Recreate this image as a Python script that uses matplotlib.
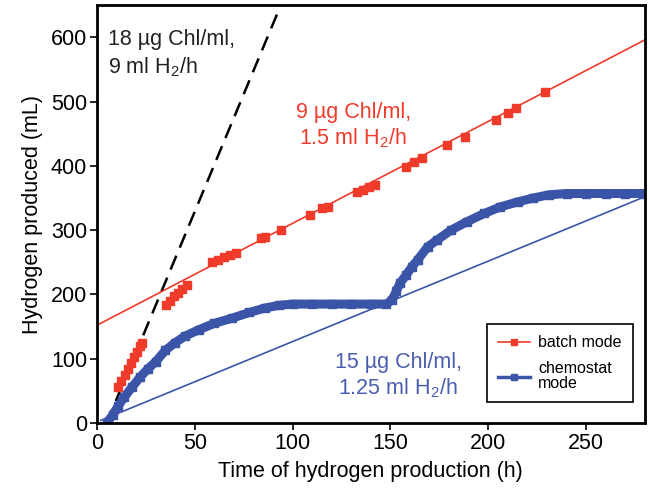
import matplotlib
matplotlib.use('Agg')
import matplotlib.pyplot as plt
from matplotlib.lines import Line2D

plt.rcParams['font.family'] = ['Liberation Sans', 'DejaVu Sans']
plt.rcParams['mathtext.default'] = 'regular'

# batch mode measurements (h, mL)
batch_t = [10.7, 12.5, 14.5, 16, 17.5, 19, 20.5, 22, 23,
           35.5, 37.5, 39.5, 41.5, 43.5, 46,
           59, 62, 65, 68, 71, 84, 86, 94, 109, 115, 118,
           133, 136, 139, 142, 158, 162, 166, 179, 188, 204, 210, 214, 229]
batch_h2 = [56, 65, 75, 84, 93, 102, 111, 120, 124,
            183, 190, 197, 203, 208, 215,
            250, 254, 258, 262, 264, 288, 290, 300, 323, 334, 336,
            359, 363, 367, 370, 398, 406, 412, 432, 445, 471, 482, 490, 515]

# chemostat mode measurements (h, mL)
chem_t = [5, 8, 11, 14, 18, 22, 26, 30, 35, 40, 45, 52, 60, 69, 78, 86, 93, 100,
          110, 120, 130, 140, 148, 151, 153, 155, 158, 161, 164, 169, 174, 181,
          189, 198, 206, 215, 223, 231, 240, 250, 260, 270, 280]
chem_h2 = [0, 12, 27, 40, 56, 71, 84, 95, 113, 125, 135, 145, 155, 163, 172, 179, 183, 185,
           185, 185, 185, 185, 185, 192, 205, 218, 230, 243, 254, 274, 285, 300,
           313, 326, 336, 344, 350, 355, 357, 357, 357, 357, 357]

# fitted rate lines
fit_black_t = [5, 94]
fit_black_h2 = [0, 650]
fit_red_t = [0, 280]
fit_red_h2 = [152, 596]
fit_blue_t = [2, 280]
fit_blue_h2 = [4, 352]

red = '#f03a2a'
blue = '#3a55a8'
fs = 15.5

fig = plt.figure(figsize=(6.5, 4.98), dpi=100)
ax = fig.add_axes([0.149, 0.1506, 0.843, 0.839])

ax.plot(fit_black_t, fit_black_h2, color='black', lw=1.8, dashes=(6, 3.5))
ax.plot(fit_red_t, fit_red_h2, color=red, lw=1.2)
ax.plot(fit_blue_t, fit_blue_h2, color=blue, lw=1.2)
ax.plot(chem_t, chem_h2, color=blue, lw=6.5, marker='s', markersize=5.5,
        solid_capstyle='butt')
ax.plot(batch_t, batch_h2, color=red, lw=0, marker='s', markersize=6)

ax.text(5.6, 613, '18 µg Chl/ml,\n9 ml H$_2$/h', fontsize=fs, va='top', ha='left',
        color='#222222', linespacing=1.3)
ax.text(131, 499, '9 µg Chl/ml,\n1.5 ml H$_2$/h', fontsize=fs, va='top', ha='center',
        color=red, linespacing=1.2)
ax.text(154, 111, '15 µg Chl/ml,\n1.25 ml H$_2$/h', fontsize=fs, va='top', ha='center',
        color='#4a5db0', linespacing=1.2)

handles = [Line2D([], [], color=red, lw=1.2, marker='s', markersize=4),
           Line2D([], [], color=blue, lw=2.5, marker='s', markersize=4)]
leg = ax.legend(handles, ['batch mode', 'chemostat\nmode'], loc='lower right',
                bbox_to_anchor=(0.993, 0.03), fontsize=11.5, frameon=True, fancybox=False,
                edgecolor='black', handlelength=2.0, handletextpad=0.5,
                borderpad=0.7, labelspacing=0.7, framealpha=1)
leg.get_frame().set_linewidth(1.2)
for t in leg.get_texts():
    t.set_linespacing(1.0)

ax.set_xlim(0, 280)
ax.set_ylim(0, 650)
ax.set_xticks([0, 50, 100, 150, 200, 250])
ax.set_yticks([0, 100, 200, 300, 400, 500, 600])
ax.set_xlabel('Time of hydrogen production (h)', fontsize=fs, labelpad=5)
ax.set_ylabel('Hydrogen produced (mL)', fontsize=fs, labelpad=6)
ax.tick_params(labelsize=fs, width=1.2, length=5, direction='out', pad=2)
for s in ax.spines.values():
    s.set_linewidth(2)

fig.savefig('out.png', dpi=100)
